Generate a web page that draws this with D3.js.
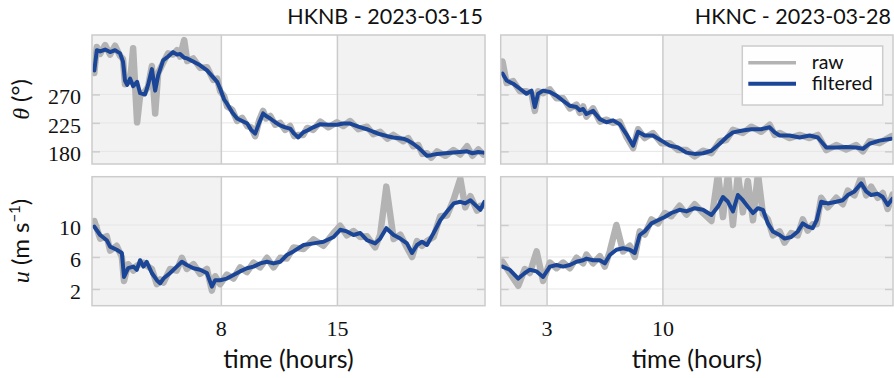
<!DOCTYPE html>
<html><head><meta charset="utf-8">
<script src="https://cdn.jsdelivr.net/npm/d3@7"></script>
<style>body{margin:0;background:#fff}svg{display:block}</style>
</head><body><svg id="c" width="894" height="378"></svg>
<script>
// ---------- data ----------
const titles = ["HKNB - 2023-03-15", "HKNC - 2023-03-28"];
const xTicksB = [8, 15], xTicksC = [3, 10];
const dayB = [8, 15], dayC = [3, 10];
const thetaTicks = [180, 225, 270];
const uTicks = [2, 6, 10];
const legendLabels = ["raw", "filtered"];

const hknbThetaT = [0.37,0.52,0.72,1.02,1.32,1.62,1.92,2.10,2.22,2.35,2.53,2.71,2.95,3.13,3.43,3.61,3.84,4.04,4.22,4.52,4.82,5.12,5.36,5.54,5.79,5.97,6.33,6.75,7.17,7.54,7.78,7.96,8.20,8.38,8.68,8.98,9.29,9.59,9.83,10.07,10.31,10.55,10.73,10.98,11.28,11.58,11.88,12.18,12.42,12.67,12.97,13.21,13.57,14.0,14.48,15.0,15.38,15.80,16.29,16.81,17.19,17.61,18.04,18.40,19.0,19.30,19.60,19.91,20.15,20.43,20.69,21.04,21.54,22.02,22.44,22.85,23.17,23.53,23.83];
const hknbThetaFilt = [308,340,338,341,337,340,335,322,292,285,295,283,290,272,270,285,310,276,300,324,330,337,333,334,328,327,322,316,308,297,290,279,262,255,242,232,228,224,214,208,225,240,236,232,226,221,218,216,208,202,210,213,218,223,222,222,224,224,219,215,211,207,204,202,200,197,192,186,180,173,174,176,177,178,179,180,177,179,178];
const hknbThetaRaw = [304,345,334,348,333,347,331,326,286,290,290,343,226,268,275,282,315,240,304,320,335,333,340,330,356,323,327,312,313,293,295,275,267,251,246,228,233,220,218,204,229,244,232,236,222,225,214,220,204,206,206,217,214,227,218,226,220,228,215,219,207,211,200,206,196,201,188,190,176,177,170,180,173,182,175,188,173,183,175];

const hknbUT = [0.37,0.72,1.12,1.32,1.72,2.03,2.16,2.41,2.73,2.93,3.13,3.33,3.53,3.84,4.14,4.34,4.54,4.94,5.34,5.65,5.95,6.35,6.75,7.16,7.46,7.66,7.96,8.36,8.76,9.16,9.57,9.97,10.37,10.78,11.18,11.58,11.98,12.38,12.99,13.59,14.19,14.80,15.20,15.60,16.0,16.41,16.81,17.31,17.61,17.98,18.42,18.82,19.22,19.53,19.83,20.13,20.43,20.83,21.23,21.64,22.04,22.44,22.74,23.05,23.45,23.65,23.89];
const hknbUFilt = [9.8,8.75,8.1,7.3,6.9,6.5,3.5,4.6,4.8,4.4,5.6,4.8,5.4,4.0,3.1,2.7,3.3,4.0,4.8,5.4,5.0,4.6,4.4,4.0,2.3,3.1,3.1,3.3,3.75,4.2,4.6,4.8,5.2,5.4,5.2,5.4,6.25,6.7,7.5,7.7,7.9,8.5,9.4,9.2,8.75,9.0,8.1,7.7,8.3,9.6,8.75,8.3,7.7,6.5,7.5,7.9,7.5,9.0,10.6,11.7,12.7,12.9,12.7,13.1,12.3,11.9,12.9];
const hknbURaw = [10.5,8.3,8.6,6.8,7.4,6.0,3.0,5.1,4.3,4.9,5.1,5.3,4.9,4.5,2.6,3.2,2.8,4.5,4.3,5.9,4.5,5.1,3.9,4.5,1.8,3.6,2.6,3.8,3.3,4.7,4.1,5.3,4.7,5.9,4.7,5.9,5.8,7.2,7.0,8.2,7.4,9.0,9.9,8.7,9.25,8.5,8.6,7.2,8.8,14.8,8.25,8.8,7.2,6.0,8.0,7.4,8.0,8.5,11.1,11.2,13.2,15.8,12.2,13.6,11.8,12.4,12.4];

const hkncThetaT = [0.34,0.59,0.98,1.39,1.79,2.09,2.29,2.49,2.79,3.20,3.60,4.0,4.41,4.81,5.01,5.21,5.41,5.81,6.22,6.62,7.02,7.42,7.83,8.23,8.53,8.93,9.43,9.94,10.44,10.94,11.45,11.95,12.45,12.96,13.46,13.86,14.26,14.86,15.37,15.97,16.48,16.78,17.08,17.68,18.29,18.89,19.39,19.90,20.50,21.10,21.71,22.11,22.51,23.11,23.82];
const hkncThetaFilt = [303,292,287,279,271,276,250,271,276,274,268,260,252,250,245,247,239,244,231,226,229,223,207,189,211,205,205,197,189,186,178,176,177,181,192,202,210,213,215,215,218,210,205,205,202,205,202,186,186,187,186,184,192,197,200];
const hkncThetaRaw = [322,288,291,275,275,272,244,275,272,278,264,264,248,254,241,251,235,248,227,230,225,227,203,185,215,201,209,193,193,182,182,172,181,177,196,198,214,209,219,211,222,206,209,201,206,201,206,182,190,183,190,180,196,193,204];

const hkncUT = [0.34,0.78,1.29,1.69,1.99,2.40,2.79,3.20,3.60,4.0,4.41,4.81,5.21,5.41,5.81,6.22,6.52,6.82,7.22,7.62,8.03,8.33,8.63,8.93,9.34,9.73,10.14,10.54,11.04,11.45,11.95,12.45,12.96,13.36,13.66,13.96,14.26,14.56,14.86,15.16,15.47,15.77,16.07,16.37,16.67,17.08,17.38,17.78,18.18,18.48,18.78,19.08,19.32,19.59,19.99,20.50,20.90,21.20,21.60,22.01,22.31,22.61,23.01,23.31,23.61,23.90];
const hkncUFilt = [4.8,4.4,3.3,4.0,4.4,4.2,3.5,4.8,5.0,4.8,5.0,5.4,5.6,5.8,5.6,5.6,5.2,6.25,6.9,7.1,6.9,6.5,8.75,9.2,10.2,10.6,11.0,11.5,11.9,11.7,12.1,11.9,11.25,12.3,13.5,12.9,11.7,13.75,13.1,12.3,11.5,12.1,11.9,10.2,9.2,8.75,8.3,8.5,9.2,10.2,9.8,9.6,10.6,12.9,12.7,12.9,13.1,13.75,14.2,15.2,14.2,13.75,13.9,13.5,12.5,13.3];
const hkncURaw = [5.4,4.0,2.4,4.5,4.0,6.7,3.0,5.3,4.6,5.3,4.6,5.9,5.2,6.3,5.2,6.1,4.8,6.7,10.0,6.7,7.4,6.0,9.2,8.8,10.7,10.2,11.5,11.1,12.4,11.3,12.6,11.5,10.5,16.4,11.0,16.4,10.0,16.4,11.6,15.5,10.6,16.4,11.4,10.7,8.7,9.2,7.8,9.0,8.7,10.7,9.3,10.1,10.1,13.4,12.2,13.4,12.6,14.3,13.7,16.0,13.7,14.8,13.4,14.0,12.0,13.8];

// ---------- layout ----------
const BLUE = "#1b4597", GRAY = "#b3b3b3", EDGE = "#cccccc", NIGHT = "#f2f2f2", GRID = "#e6e6e6";
const SANS = "Lato, 'Open Sans', sans-serif";
const SERIF = "'Liberation Serif', 'DejaVu Serif', 'Times New Roman', serif";
const INK = "#111";
const svg = d3.select("#c");

const cols = [
  {x0: 92, x1: 485, title: titles[0], ticks: xTicksB, day: dayB,
   series: [[hknbThetaT, hknbThetaRaw, hknbThetaFilt], [hknbUT, hknbURaw, hknbUFilt]]},
  {x0: 500.7, x1: 893, title: titles[1], ticks: xTicksC, day: dayC,
   series: [[hkncThetaT, hkncThetaRaw, hkncThetaFilt], [hkncUT, hkncURaw, hkncUFilt]]}
];
const rows = [
  {y0: 35, y1: 164, domain: [160, 364], ticks: thetaTicks},
  {y0: 176.7, y1: 305.7, domain: [-0.09, 16.04], ticks: uTicks}
];
const tDomain = [0.23, 23.93];

cols.forEach((c, ci) => {
  const x = d3.scaleLinear().domain(tDomain).range([c.x0, c.x1]);
  rows.forEach((r, ri) => {
    const y = d3.scaleLinear().domain(r.domain).range([r.y1, r.y0]);
    const g = svg.append("g");
    const id = `clip${ci}${ri}`;
    g.append("clipPath").attr("id", id).append("rect")
      .attr("x", c.x0).attr("y", r.y0).attr("width", c.x1 - c.x0).attr("height", r.y1 - r.y0);
    g.append("rect").attr("x", c.x0).attr("y", r.y0).attr("width", c.x1 - c.x0).attr("height", r.y1 - r.y0).attr("fill", "#fff");
    [[tDomain[0], c.day[0]], [c.day[1], tDomain[1]]].forEach(([a, b]) => {
      g.append("rect").attr("x", x(a)).attr("y", r.y0).attr("width", x(b) - x(a)).attr("height", r.y1 - r.y0).attr("fill", NIGHT);
    });
    g.selectAll(null).data(r.ticks).join("line")
      .attr("x1", c.x0).attr("x2", c.x1).attr("y1", d => y(d)).attr("y2", d => y(d))
      .attr("stroke", GRID).attr("stroke-width", 1);
    const yl = g.append("g").attr("transform", `translate(${c.x0},0)`)
      .call(d3.axisLeft(y).tickValues(r.ticks).tickSize(-8).tickPadding(11).tickFormat(ci === 0 ? d3.format("d") : () => ""));
    const yr = g.append("g").attr("transform", `translate(${c.x1},0)`)
      .call(d3.axisRight(y).tickValues(r.ticks).tickSize(-8).tickFormat(() => ""));
    [yl, yr].forEach(a => { a.select(".domain").remove(); a.attr("font-family", null).attr("font-size", null);
      a.selectAll("line").attr("stroke", EDGE).attr("stroke-width", 1.5); });
    yl.selectAll("text").style("font-family", SERIF).style("font-size", "22px").attr("fill", INK)
      .attr("dy", null).attr("dominant-baseline", "central").attr("y", 2);
    const xa = g.append("g").attr("transform", `translate(0,${r.y1})`)
      .call(d3.axisBottom(x).tickValues(c.ticks).tickSize(-(r.y1 - r.y0)).tickPadding(0)
        .tickFormat(ri === 1 ? d3.format("d") : () => ""));
    xa.select(".domain").remove();
    xa.attr("font-family", null).attr("font-size", null);
    xa.selectAll("line").attr("stroke", EDGE).attr("stroke-width", 1.5);
    xa.selectAll("text").style("font-family", SERIF).style("font-size", "22px").attr("fill", INK)
      .attr("dy", null).attr("y", 30);
    const [ts, raw, filt] = c.series[ri];
    const line = d3.line().x((d, i) => x(ts[i])).y(d => y(d));
    g.append("path").datum(raw).attr("d", line).attr("fill", "none").attr("stroke", GRAY)
      .attr("stroke-width", 6.5).attr("stroke-linejoin", "round").attr("stroke-linecap", "round").attr("clip-path", `url(#${id})`);
    g.append("path").datum(filt).attr("d", line).attr("fill", "none").attr("stroke", BLUE)
      .attr("stroke-width", 4).attr("stroke-linejoin", "round").attr("stroke-linecap", "round").attr("clip-path", `url(#${id})`);
    g.append("rect").attr("x", c.x0).attr("y", r.y0).attr("width", c.x1 - c.x0).attr("height", r.y1 - r.y0)
      .attr("fill", "none").attr("stroke", EDGE).attr("stroke-width", 1.5);
  });
  svg.append("text").attr("x", c.x1 - 2).attr("y", 24).attr("text-anchor", "end")
    .style("font-family", SANS).style("font-size", "21.5px").attr("fill", INK).text(c.title);
  svg.append("text").attr("x", (c.x0 + c.x1) / 2).attr("y", 368).attr("text-anchor", "middle")
    .style("font-family", SANS).style("font-size", "25px").attr("fill", INK).text("time (hours)");
});

const tl = svg.append("text").attr("transform", "translate(29,99.5) rotate(-90)").attr("text-anchor", "middle")
  .style("font-size", "24px").attr("fill", INK);
tl.append("tspan").style("font-family", SERIF).style("font-style", "italic").text("θ");
tl.append("tspan").style("font-family", SANS).text(" (°)");
const ul = svg.append("text").attr("transform", "translate(29,241) rotate(-90)").attr("text-anchor", "middle")
  .style("font-size", "24px").attr("fill", INK);
ul.append("tspan").style("font-family", SERIF).style("font-style", "italic").text("u");
ul.append("tspan").style("font-family", SANS).text(" (m s");
ul.append("tspan").style("font-family", SANS).style("font-size", "15px").attr("dy", -9).text("−1");
ul.append("tspan").style("font-family", SANS).attr("dy", 9).text(")");

const lg = svg.append("g");
lg.append("rect").attr("x", 742.3).attr("y", 46).attr("width", 140.4).attr("height", 59)
  .attr("fill", "#fff").attr("fill-opacity", 0.9).attr("stroke", EDGE).attr("stroke-width", 1.5);
[[GRAY, 62.7, legendLabels[0], 3.5], [BLUE, 83.7, legendLabels[1], 4]].forEach(([col, yy, lab, sw]) => {
  lg.append("line").attr("x1", 748.3).attr("x2", 796).attr("y1", yy).attr("y2", yy)
    .attr("stroke", col).attr("stroke-width", sw);
  lg.append("text").attr("x", 811.7).attr("y", yy + 6.5).style("font-family", SANS).style("font-size", "19.5px")
    .attr("fill", INK).text(lab);
});
</script>
</body></html>
